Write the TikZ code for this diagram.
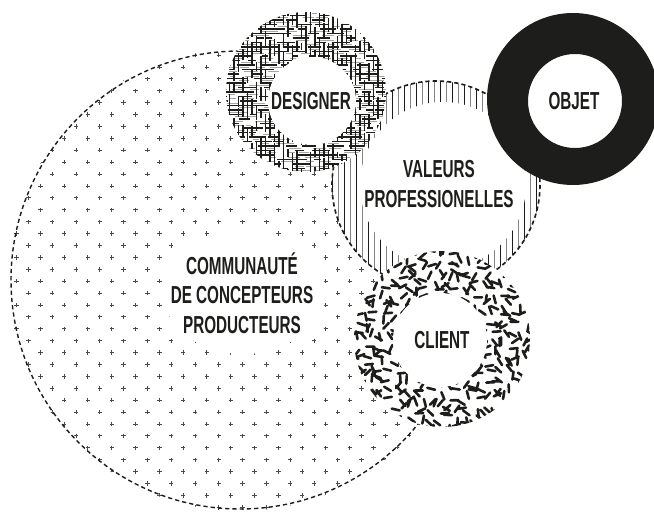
\documentclass[tikz,border=0pt]{standalone}
\usepackage{fontspec}
\newfontfamily\tagfont{Liberation Sans}[FakeStretch=0.62]
\usetikzlibrary{positioning}
\definecolor{ink}{HTML}{1D1D1B}
\tikzset{
  tag/.style={font=\tagfont\bfseries\fontsize{21}{25}\selectfont, text=ink, align=center, inner sep=0pt},
  outline/.style={draw=ink, line width=1.2pt, dash pattern=on 3.6pt off 2.6pt},
  plusmark/.style={draw=ink!80, line width=0.8pt},
  hatch/.style={draw=ink, line width=0.9pt},
  stick/.style={draw=ink, line width=2.2pt, line cap=round},
}
\begin{document}
\begin{tikzpicture}[x=0.03cm, y=-0.03cm]
  \useasboundingbox (0,0) rectangle (654,511);
  \clip (0,0) rectangle (654,511);
  \pgfmathsetseed{11}
  % community of designers and producers
  \begin{scope}
    \clip (240,280) circle (231);
    \path[plusmark] \foreach \k [evaluate=\k as \off using {mod(\k,2)*11.9}] in {0,...,40}
      { \foreach \m in {0,...,19}
        { ({14.3+\off+23.8*\m},{43.2+11.9*\k}) -- ++(4.4,0)
          ({16.5+\off+23.8*\m},{41+11.9*\k}) -- ++(0,4.4) } };
  \end{scope}
  \fill[white] (243,292) ellipse [x radius=80, y radius=62];
  \draw[outline] (240,280) circle (229);
  % professional values
  \fill[white] (436,185) circle (104);
  \begin{scope}
    \clip (436,185) circle (104);
    \path[draw=ink, line width=0.8pt] \foreach \i in {0,...,18} { ({332+12*\i},78) -- ++(0,215) };
    \path[draw=ink!55, line width=0.8pt] \foreach \i in {0,...,18} { ({338+12*\i},78) -- ++(0,215) };
  \end{scope}
  \fill[white] (443,185) circle (83);
  \draw[outline, line width=1.4pt] (436,185) circle (104);
  % designer
  \fill[white] (306,92) circle (80);
  \begin{scope}
    \clip (306,92) circle (80);
    \path[draw=ink!40, line width=0.7pt] \foreach \i in {-18,...,18}
      { \foreach \j in {-9,...,9} { ({306+18*\j+9*rand},{94+4.5*\i}) -- ++({5+10*rnd},0) } };
    \path[hatch] \foreach \i in {-18,...,18}
      { \foreach \j in {-9,...,9} { ({306+18*\j+9*rand},{92+4.5*\i}) -- ++({6+12*rnd},0) } };
    \path[hatch] \foreach \i in {-18,...,18}
      { \foreach \j in {-9,...,9} { ({306+4.5*\i},{92+18*\j+9*rand}) -- ++(0,{6+12*rnd}) } };
  \end{scope}
  \fill[white] (312,101) circle (44);
  % object
  \fill[ink, even odd rule] (573,99) circle (86) (575,101) circle (47);
  % client
  \fill[white] (442,339) circle (88);
  \begin{scope}
    \clip (442,339) circle (88);
    \path[stick] \foreach \i in {-11,...,11}
      { \foreach \j [evaluate=\j as \a using {360*rnd}] in {-11,...,11}
        { ({442+8.5*\i+2.5*rand},{339+8.5*\j+2.5*rand}) -- ++(\a:8) } };
  \end{scope}
  \fill[white] (440,340) circle (47);
  % labels
  \node[tag] (designer) at (311,101) {DESIGNER};
  \node[tag] (objet) at (574,101) {OBJET};
  \node[tag] (valeurs) at (439,184) {VALEURS\\PROFESSIONELLES};
  \node[tag] (client) at (442,340) {CLIENT};
  \node[tag] (communaute) at (242,293) {COMMUNAUTÉ\\DE CONCEPTEURS\\PRODUCTEURS};
\end{tikzpicture}
\end{document}
